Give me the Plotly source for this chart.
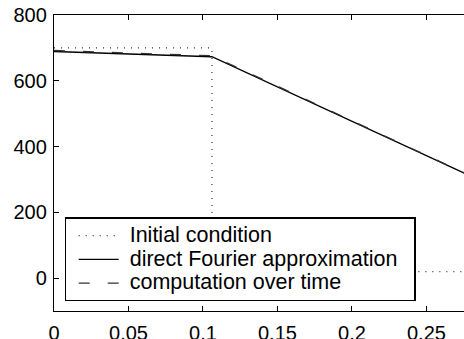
import plotly.graph_objects as go

# Data
x_init = [0, 0.106, 0.106, 0.3]
y_init = [700, 700, 20, 20]
x_direct = [0, 0.106, 0.3]
y_direct = [689, 673, 268]
x_comp = [0, 0.05, 0.106, 0.3]
y_comp = [692, 685, 676, 268]
xticks = [0, 0.05, 0.1, 0.15, 0.2, 0.25]
xticklabels = ["0", "0.05", "0.1", "0.15", "0.2", "0.25"]
yticks = [0, 200, 400, 600, 800]
yticklabels = ["0", "200", "400", "600", "800"]
names = ["Initial condition", "direct Fourier approximation", "computation over time"]

def lg(s):
    return '<span style="font-size:21.5px">\u00a0' + s + '\u00a0\u00a0</span>'

fig = go.Figure()
fig.add_trace(go.Scatter(x=x_init, y=y_init, mode="lines", name=lg(names[0]),
                         line=dict(color="#333333", width=1.2, dash="1px,6px")))
fig.add_trace(go.Scatter(x=x_direct, y=y_direct, mode="lines", name=lg(names[1]),
                         line=dict(color="black", width=1.3)))
fig.add_trace(go.Scatter(x=x_comp, y=y_comp, mode="lines", name=lg(names[2]),
                         line=dict(color="#333333", width=1.3, dash="11px,18px")))

font = dict(family="Liberation Sans, Arial, sans-serif", size=20, color="black")
fig.update_layout(
    width=464, height=339,
    margin=dict(l=54, r=0, t=15, b=28),
    paper_bgcolor="white", plot_bgcolor="white",
    font=font,
    showlegend=True,
    legend=dict(x=(64.5 - 54) / 410, y=0.316, xanchor="left", yanchor="top",
                bgcolor="white", bordercolor="black", borderwidth=1.2,
                font=dict(family="Liberation Sans, Arial, sans-serif", size=16, color="black"),
                itemwidth=40, tracegroupgap=0, indentation=8),
)
fig.update_xaxes(range=[0, 0.2752], tickvals=xticks, ticktext=xticklabels,
                 showline=True, linecolor="black", linewidth=1.3, mirror="ticks",
                 ticks="inside", ticklen=5, tickcolor="black", showgrid=False,
                 zeroline=False, automargin=False, ticklabelstandoff=4)
fig.update_yaxes(range=[-100, 800], tickvals=yticks, ticktext=yticklabels,
                 showline=True, linecolor="black", linewidth=1.3, mirror=False,
                 ticks="inside", ticklen=5, tickcolor="black", showgrid=False,
                 zeroline=False, automargin=False, ticklabelstandoff=2)

fig.write_html("out.html")
